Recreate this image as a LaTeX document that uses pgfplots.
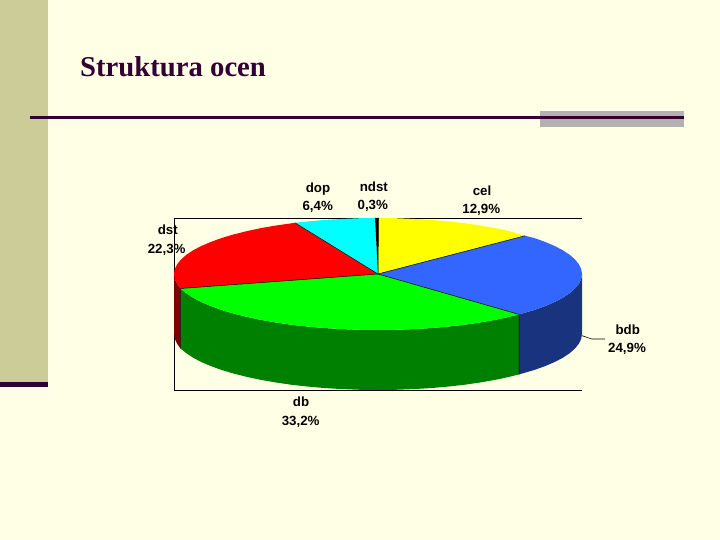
\documentclass[border=0pt]{standalone}
\usepackage{pgfplots}
\pgfplotsset{compat=1.18}
\usepackage{fontspec}
\setmainfont{Liberation Sans}
\newfontfamily\titlefont{Liberation Serif}
\definecolor{bg}{HTML}{FFFFE5}
\definecolor{band}{HTML}{CCCC99}
\definecolor{plum}{HTML}{330033}
\definecolor{greybar}{HTML}{B2B2B2}
\definecolor{cYellow}{HTML}{FFFF00}
\definecolor{cCyan}{HTML}{00FFFF}
\definecolor{cRed}{HTML}{FF0000}
\definecolor{cGreen}{HTML}{00FF00}
\definecolor{cBlue}{HTML}{3366FF}
\definecolor{cBlueD}{HTML}{19337F}
\definecolor{cGreenD}{HTML}{008000}
\definecolor{cRedD}{HTML}{800000}
\newcommand{\lab}[3]{\node[anchor=base,inner sep=0pt,font=\bfseries\fontsize{13.3}{14}\selectfont] at (axis cs:#1,#2) {#3};}
\begin{document}
\begin{tikzpicture}
\begin{axis}[
  scale only axis, width=720pt, height=540pt,
  xmin=0, xmax=720, ymin=0, ymax=540, y dir=reverse,
  hide axis, clip=true]
  % slide background
  \addplot[fill=bg,draw=none] coordinates {(0,0) (720,0) (720,540) (0,540)} -- cycle;
  \addplot[fill=band,draw=none] coordinates {(0,0) (47.5,0) (47.5,382) (0,382)} -- cycle;
  \addplot[fill=plum,draw=none] coordinates {(0,382) (47.5,382) (47.5,387) (0,387)} -- cycle;
  \addplot[fill=greybar,draw=none] coordinates {(540,111) (684,111) (684,127) (540,127)} -- cycle;
  \addplot[color=plum,line width=3pt] coordinates {(30,117.5) (684,117.5)};
  % plot area frame, open on the right
  \addplot[color=black,line width=0.8pt] coordinates {(582,218.3) (174.5,218.3) (174.5,390) (582,390)};
  % pie sides
  \addplot[fill=cRedD,draw=none] coordinates {(174,272) (174.8,278.9) (177.1,283.7) (180.5,288.5) (180.5,348.5) (177.1,343.7) (174.8,338.9) (174,332)} -- cycle;
  \addplot[fill=cGreenD,draw=none] coordinates {(180.5,288.5) (186.3,293.2) (193.1,297.7) (201.3,302) (210.9,306.1) (221.7,310) (233.7,313.6) (246.9,316.9) (261,319.9) (276,322.5) (291.8,324.8) (308.2,326.6) (325.2,328.1) (342.6,329.1) (360.2,329.8) (378,330) (395.8,329.8) (413.4,329.1) (430.8,328.1) (447.8,326.6) (464.2,324.8) (480,322.5) (495,319.9) (509.1,316.9) (519,314.4) (519,374.4) (509.1,376.9) (495,379.9) (480,382.5) (464.2,384.8) (447.8,386.6) (430.8,388.1) (413.4,389.1) (395.8,389.8) (378,390) (360.2,389.8) (342.6,389.1) (325.2,388.1) (308.2,386.6) (291.8,384.8) (276,382.5) (261,379.9) (246.9,376.9) (233.7,373.6) (221.7,370) (210.9,366.1) (201.3,362) (193.1,357.7) (186.3,353.2) (180.5,348.5)} -- cycle;
  \addplot[fill=cBlueD,draw=none] coordinates {(519,314.4) (534.3,310) (545.1,306.1) (554.7,302) (562.9,297.7) (569.7,293.2) (575,288.5) (578.9,283.7) (581.2,278.9) (582,274) (582,334) (581.2,338.9) (578.9,343.7) (575,348.5) (569.7,353.2) (562.9,357.7) (554.7,362) (545.1,366.1) (534.3,370) (519,374.4)} -- cycle;
  % pie top, one polygon per slice
  \addplot[fill=cYellow,draw=none] coordinates {(378,274) (378.5,218) (395.8,218.2) (413.4,218.9) (430.8,219.9) (447.8,221.4) (464.2,223.2) (480,225.5) (495,228.1) (509.1,231.1) (525,235.8)} -- cycle;
  \addplot[fill=cBlue,draw=none] coordinates {(378,274) (525,235.8) (534.3,238) (545.1,241.9) (554.7,246) (562.9,250.3) (569.7,254.8) (575,259.5) (578.9,264.3) (581.2,269.1) (582,274) (581.2,278.9) (578.9,283.7) (575,288.5) (569.7,293.2) (562.9,297.7) (554.7,302) (545.1,306.1) (534.3,310) (519,314.4)} -- cycle;
  \addplot[fill=cGreen,draw=none] coordinates {(378,274) (519,314.4) (509.1,316.9) (495,319.9) (480,322.5) (464.2,324.8) (447.8,326.6) (430.8,328.1) (413.4,329.1) (395.8,329.8) (378,330) (360.2,329.8) (342.6,329.1) (325.2,328.1) (308.2,326.6) (291.8,324.8) (276,322.5) (261,319.9) (246.9,316.9) (233.7,313.6) (221.7,310) (210.9,306.1) (201.3,302) (193.1,297.7) (186.3,293.2) (180.5,288.5)} -- cycle;
  \addplot[fill=cRed,draw=none] coordinates {(378,274) (180.5,288.5) (177.1,283.7) (174.8,278.9) (174,274) (174.8,269.1) (177.1,264.3) (181,259.5) (186.3,254.8) (193.1,250.3) (201.3,246) (210.9,241.9) (221.7,238) (233.7,234.4) (246.9,231.1) (261,228.1) (276,225.5) (295,222.8)} -- cycle;
  \addplot[fill=cCyan,draw=none] coordinates {(378,274) (295,222.8) (308.2,221.4) (325.2,219.9) (342.6,218.9) (360.2,218.2) (375,218)} -- cycle;
  \addplot[fill=black,draw=none] coordinates {(378,274) (375,218) (378.5,218)} -- cycle;
  % radial edges between slices
  \addplot[color=black,line width=0.5pt] coordinates {(525,235.8) (378,274) (519,314.4) (519,374.4)};
  \addplot[color=black,line width=0.5pt] coordinates {(180.5,348.5) (180.5,288.5) (378,274) (295,222.8)};
  \addplot[color=black,line width=0.5pt] coordinates {(378,274) (378.5,218)};
  % leader line to bdb
  \addplot[color=black,line width=0.6pt] coordinates {(582,335.7) (591.7,339) (605,339)};
  % texts
  \node[anchor=base west,inner sep=0pt,text=plum,font=\titlefont\bfseries\fontsize{28.7}{32}\selectfont] at (axis cs:80,76.7) {Struktura ocen};
  \lab{318}{193}{dop}\lab{317.7}{211}{6,4\%}
  \lab{373.8}{192}{ndst}\lab{372.8}{209.3}{0,3\%}
  \lab{482}{196}{cel}\lab{481.3}{214}{12,9\%}
  \lab{167.8}{235}{dst}\lab{166.7}{253.3}{22,3\%}
  \lab{627.8}{334.7}{bdb}\lab{627}{352.3}{24,9\%}
  \lab{301}{406}{db}\lab{300.7}{425}{33,2\%}
\end{axis}
\end{tikzpicture}
\end{document}
